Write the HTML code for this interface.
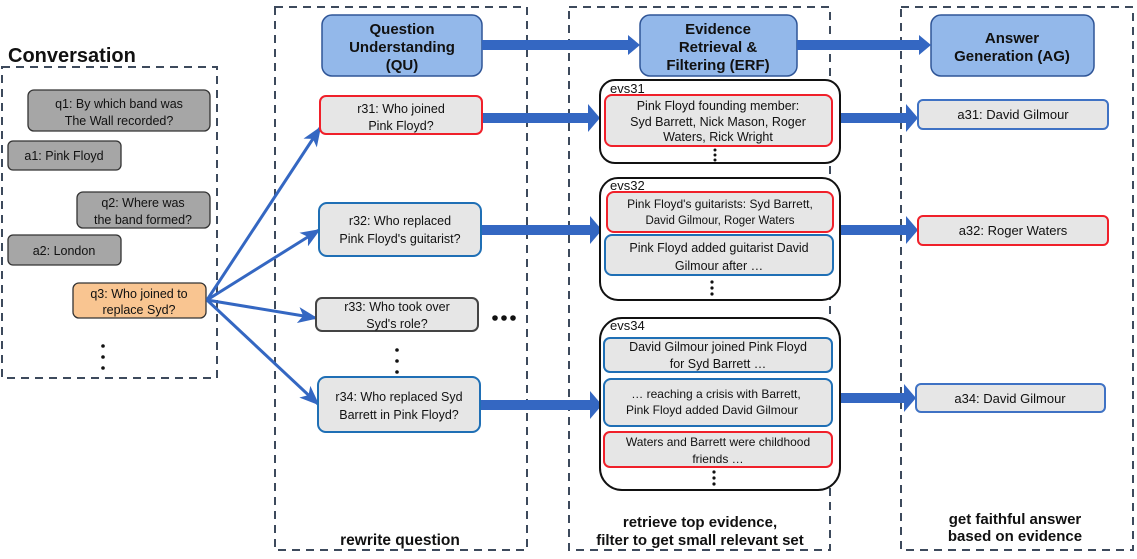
<!DOCTYPE html>
<html><head><meta charset="utf-8"><style>
body{margin:0;background:#fff}
svg{display:block}
text{font-family:"Liberation Sans",sans-serif;fill:#111}
.b{font-weight:bold}
</style></head><body>
<svg width="1137" height="559" viewBox="0 0 1137 559" xmlns="http://www.w3.org/2000/svg">
<defs>
<marker id="ah2" markerWidth="20" markerHeight="16" refX="18" refY="8" orient="auto" markerUnits="userSpaceOnUse"><path d="M0,0 L20,8 L0,16 L5,8 Z" fill="#3467c2"/></marker>
</defs>
<g fill="none" stroke="#3d4a5c" stroke-width="2" stroke-dasharray="8,6">
<rect x="2" y="67" width="215" height="311"/>
<rect x="275" y="7" width="252" height="543"/>
<rect x="569" y="7" width="261" height="543"/>
<rect x="901" y="7" width="232" height="543"/>
</g>
<text x="8" y="62" class="b" font-size="20">Conversation</text>
<g fill="#93b8ea" stroke="#2f5597" stroke-width="1.5">
<rect x="322" y="15" width="160" height="61" rx="10"/>
<rect x="640" y="15" width="157" height="61" rx="10"/>
<rect x="931" y="15" width="163" height="61" rx="10"/>
</g>
<g class="b" font-size="15" text-anchor="middle">
<text x="402" y="34" class="b">Question</text><text x="402" y="52" class="b">Understanding</text><text x="402" y="70" class="b">(QU)</text>
<text x="718" y="34" class="b">Evidence</text><text x="718" y="52" class="b">Retrieval &amp;</text><text x="718" y="70" class="b">Filtering (ERF)</text>
<text x="1012" y="43" class="b">Answer</text><text x="1012" y="61" class="b">Generation (AG)</text>
</g>
<g fill="#3467c2">
<polygon points="482,40 628,40 628,35 640,45 628,55 628,50 482,50"/>
<polygon points="797,40 919,40 919,35 931,45 919,55 919,50 797,50"/>
<polygon points="482,113 588,113 588,104 600,118 588,132 588,123 482,123"/>
<polygon points="481,225 590,225 590,216 602,230 590,244 590,235 481,235"/>
<polygon points="480,400 590,400 590,391 602,405 590,419 590,410 480,410"/>
<polygon points="840,113 906,113 906,104 918,118 906,132 906,123 840,123"/>
<polygon points="840,225 906,225 906,216 918,230 906,244 906,235 840,235"/>
<polygon points="840,393 904,393 904,384 916,398 904,412 904,403 840,403"/>
</g>
<g stroke="#333" stroke-width="1.3">
<rect x="28" y="90" width="182" height="41" rx="6" fill="#a6a6a6"/>
<rect x="8" y="141" width="113" height="29" rx="5" fill="#a6a6a6"/>
<rect x="77" y="192" width="133" height="36" rx="6" fill="#a6a6a6"/>
<rect x="8" y="235" width="113" height="30" rx="5" fill="#a6a6a6"/>
<rect x="73" y="283" width="133" height="35" rx="6" fill="#f9c591"/>
</g>
<g font-size="12.5" text-anchor="middle">
<text x="119" y="108">q1: By which band was</text><text x="119" y="125">The Wall recorded?</text>
<text x="64" y="160">a1: Pink Floyd</text>
<text x="143" y="207">q2: Where was</text><text x="143" y="224">the band formed?</text>
<text x="64" y="255">a2: London</text>
<text x="139" y="298">q3: Who joined to</text><text x="139" y="314">replace Syd?</text>
</g>
<g fill="#111"><circle cx="103" cy="346" r="1.8"/><circle cx="103" cy="357" r="1.8"/><circle cx="103" cy="368" r="1.8"/>
<circle cx="397" cy="350" r="1.8"/><circle cx="397" cy="361" r="1.8"/><circle cx="397" cy="372" r="1.8"/>
<circle cx="495" cy="318" r="2.8"/><circle cx="504" cy="318" r="2.8"/><circle cx="513" cy="318" r="2.8"/></g>
<g stroke="#3467c2" stroke-width="3" fill="none" marker-end="url(#ah2)">
<line x1="207" y1="300" x2="320" y2="128"/>
<line x1="207" y1="300" x2="319" y2="230"/>
<line x1="207" y1="300" x2="316" y2="318"/>
<line x1="207" y1="300" x2="318" y2="404"/>
</g>
<rect x="320" y="96" width="162" height="38" rx="6" fill="#e6e6e6" stroke="#f0202a" stroke-width="2"/>
<rect x="319" y="203" width="162" height="53" rx="8" fill="#e6e6e6" stroke="#1f6fb5" stroke-width="2"/>
<rect x="316" y="298" width="162" height="33" rx="6" fill="#e6e6e6" stroke="#444" stroke-width="2"/>
<rect x="318" y="377" width="162" height="55" rx="8" fill="#e6e6e6" stroke="#1f6fb5" stroke-width="2"/>
<g font-size="12.5" text-anchor="middle">
<text x="401" y="113">r31: Who joined</text><text x="401" y="130">Pink Floyd?</text>
<text x="400" y="225">r32: Who replaced</text><text x="400" y="243">Pink Floyd's guitarist?</text>
<text x="397" y="311">r33: Who took over</text><text x="397" y="328">Syd's role?</text>
<text x="399" y="401">r34: Who replaced Syd</text><text x="399" y="419">Barrett in Pink Floyd?</text>
<text x="400" y="545" class="b" font-size="15.5">rewrite question</text>
</g>
<g fill="#fff" stroke="#111" stroke-width="2">
<rect x="600" y="80" width="240" height="83" rx="15"/>
<rect x="600" y="178" width="240" height="122" rx="18"/>
<rect x="600" y="318" width="240" height="172" rx="22"/>
</g>
<g font-size="13"><text x="610" y="93">evs31</text><text x="610" y="190">evs32</text><text x="610" y="330">evs34</text></g>
<g fill="#e6e6e6" stroke-width="2">
<rect x="605" y="95" width="227" height="51" rx="7" stroke="#f0202a"/>
<rect x="607" y="192" width="226" height="40" rx="7" stroke="#f0202a"/>
<rect x="605" y="235" width="228" height="40" rx="7" stroke="#1f6fb5"/>
<rect x="604" y="338" width="228" height="34" rx="6" stroke="#1f6fb5"/>
<rect x="604" y="379" width="228" height="47" rx="7" stroke="#1f6fb5"/>
<rect x="604" y="432" width="228" height="35" rx="6" stroke="#f0202a"/>
</g>
<g font-size="12.5" text-anchor="middle">
<text x="718" y="110">Pink Floyd founding member:</text><text x="718" y="126">Syd Barrett, Nick Mason, Roger</text><text x="718" y="141">Waters, Rick Wright</text>
<text x="720" y="208" font-size="12">Pink Floyd's guitarists: Syd Barrett,</text><text x="720" y="224" font-size="11.5">David Gilmour, Roger Waters</text>
<text x="719" y="252">Pink Floyd added guitarist David</text><text x="719" y="270">Gilmour after …</text>
<text x="718" y="351">David Gilmour joined Pink Floyd</text><text x="718" y="368">for Syd Barrett …</text>
<text x="716" y="398" font-size="12">… reaching a crisis with Barrett,</text><text x="712" y="414" font-size="12">Pink Floyd added David Gilmour</text>
<text x="718" y="446" font-size="12">Waters and Barrett were childhood</text><text x="718" y="463" font-size="12">friends …</text>
</g>
<g fill="#111">
<circle cx="715" cy="150" r="1.5"/><circle cx="715" cy="155" r="1.5"/><circle cx="715" cy="160" r="1.5"/>
<circle cx="712" cy="282" r="1.6"/><circle cx="712" cy="288" r="1.6"/><circle cx="712" cy="294" r="1.6"/>
<circle cx="714" cy="472" r="1.6"/><circle cx="714" cy="478" r="1.6"/><circle cx="714" cy="484" r="1.6"/>
</g>
<g font-size="15" class="b" text-anchor="middle"><text x="700" y="527" class="b">retrieve top evidence,</text><text x="700" y="545" class="b">filter to get small relevant set</text>
<text x="1015" y="524" class="b">get faithful answer</text><text x="1015" y="541" class="b">based on evidence</text></g>
<g fill="#e6e6e6" stroke-width="2">
<rect x="918" y="100" width="190" height="29" rx="5" stroke="#3f72c4"/>
<rect x="918" y="216" width="190" height="29" rx="5" stroke="#f0202a"/>
<rect x="916" y="384" width="189" height="28" rx="5" stroke="#3f72c4"/>
</g>
<g font-size="13" text-anchor="middle">
<text x="1013" y="119">a31: David Gilmour</text>
<text x="1013" y="235">a32: Roger Waters</text>
<text x="1010" y="403">a34: David Gilmour</text>
</g>
</svg>
</body></html>
